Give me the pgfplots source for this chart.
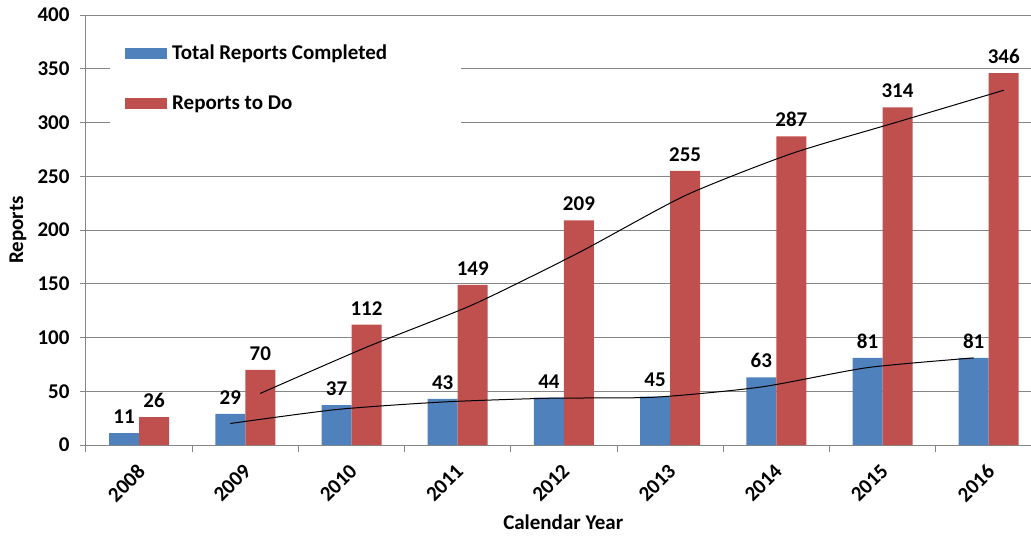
\documentclass[border=0pt]{standalone}
\usepackage{pgfplots}
\pgfplotsset{compat=1.18}
\usepackage{fontspec}
\setmainfont{Carlito}
\definecolor{exblue}{RGB}{79,129,189}
\definecolor{exred}{RGB}{192,80,77}
\definecolor{axgray}{RGB}{134,134,134}
\newcommand{\lblfont}{\bfseries\fontsize{21}{23}\selectfont}
\begin{document}
\begin{tikzpicture}
\begin{axis}[
  scale only axis, width=945pt, height=430pt,
  xmin=-0.5, xmax=8.398, ymin=0, ymax=400,
  axis lines=left,
  axis line style={-, axgray, line width=1pt},
  ytick={0,50,...,400},
  xtick={0,...,8},
  xticklabels={2008,2009,2010,2011,2012,2013,2014,2015,2016},
  minor xtick={-0.5,0.5,...,7.5},
  tick align=outside,
  major tick length=6pt, minor tick length=7pt,
  major x tick style={draw=none},
  every tick/.style={axgray, line width=1pt},
  minor x tick style={axgray, line width=1pt},
  ymajorgrids, grid style={axgray, line width=0.9pt},
  /pgf/number format/assume math mode=true,
  ticklabel style={font=\lblfont, text=black},
  xticklabel style={yshift=-7pt, xshift=-3pt, rotate=45, anchor=north east},
  yticklabel style={xshift=-7pt},
  ylabel={Reports}, xlabel={Calendar Year},
  label style={font=\lblfont},
  ylabel style={at={(axis description cs:-0.072,0.5)}, anchor=center, rotate=0},
  xlabel style={at={(axis description cs:0.505,-0.179)}, anchor=center},
  legend image code/.code={\fill (0pt,-5.5pt) rectangle (42pt,5.5pt); \path (45pt,0pt);},
  legend style={at={(axis description cs:0.0254,0.977)}, anchor=north west,
    draw=none, fill=white, font=\lblfont, row sep=31pt,
    inner xsep=15pt, inner ysep=18pt},
  legend cell align=left,
  nodes near coords style={font=\lblfont, text=black, anchor=south, yshift=6pt},
]
\addplot[ybar, bar width=0.2825, bar shift=-0.14125, fill=exblue, draw=none, nodes near coords,
  nodes near coords style={xshift=-15pt}]
 coordinates {(0,11) (1,29) (2,37) (3,43) (4,44) (5,45) (6,63) (7,81) (8,81)};
\addlegendentry{Total Reports Completed\rule{57pt}{0pt}}
\addplot[ybar, bar width=0.2825, bar shift=0.14125, fill=exred, draw=none, nodes near coords,
  nodes near coords style={xshift=15pt}]
 coordinates {(0,26) (1,70) (2,112) (3,149) (4,209) (5,255) (6,287) (7,314) (8,346)};
\addlegendentry{Reports to Do}
\addplot[black, line width=1pt, smooth, tension=0.4, forget plot]
 coordinates {(0.85875,20) (1.85875,33) (2.85875,40) (3.85875,43.5) (4.85875,44.5) (5.85875,54) (6.85875,72) (7.85875,81)};
\addplot[black, line width=1pt, smooth, tension=0.4, forget plot]
 coordinates {(1.14125,48) (2.14125,91) (3.14125,130.5) (4.14125,179) (5.14125,232) (6.14125,271) (7.14125,300.5) (8.14125,330)};
\coordinate (sw) at (rel axis cs:0,0);
\coordinate (ne) at (rel axis cs:1,1);
\end{axis}
\pgfresetboundingbox
\useasboundingbox ([xshift=-86pt,yshift=-94pt]sw) rectangle ([yshift=15pt]ne);
\end{tikzpicture}
\end{document}
